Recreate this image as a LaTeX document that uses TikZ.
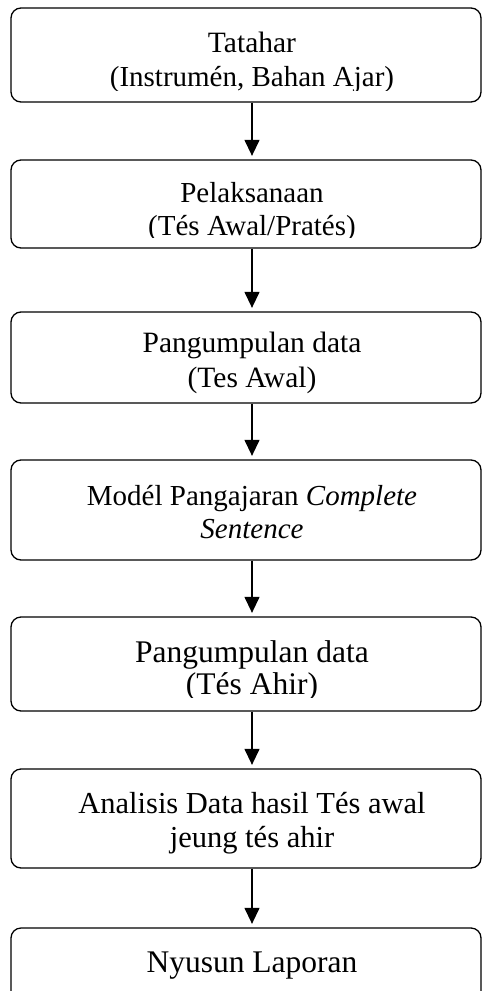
\documentclass[tikz,border=0pt]{standalone}
\usepackage{fontspec}
\setmainfont{Liberation Serif}
\usetikzlibrary{arrows.meta}
\newcommand\fsz[1]{\fontsize{#1}{#1}\selectfont}
\tikzset{
  box/.style={draw=black, line width=1.3pt, rounded corners=10pt, fill=white,
              minimum width=470pt, inner sep=0pt},
  lbl/.style={anchor=base, inner sep=0pt, font=\fsz{#1}},
  arr/.style={draw=black, line width=1.3pt, -{Triangle[width=15pt,length=16pt]},
              shorten >=3.5pt},
}
\begin{document}
\begin{tikzpicture}[x=1pt,y=1pt]
\clip (0,0) rectangle (482,-991);
\fill[white] (0,0) rectangle (482,-991);
\coordinate (ax) at (252,0);
% boxes
\node[box, minimum height=94pt]  (b1) at (246,-55)   {};
\node[box, minimum height=88pt]  (b2) at (246,-204)  {};
\node[box, minimum height=91pt]  (b3) at (246,-357.5) {};
\node[box, minimum height=100pt] (b4) at (246,-510)  {};
\node[box, minimum height=94pt]  (b5) at (246,-664)  {};
\node[box, minimum height=99pt]  (b6) at (246,-818.5) {};
\node[box, minimum height=82pt]  (b7) at (246,-969)  {};
% texts
\node[lbl=29.5] (t1a) at (252,-52) {Tatahar};
\begin{scope}
  \clip (0,-8) rectangle (482,-90);
  \node[lbl=29] (t1b) at (252,-86) {(Instrumén, Bahan Ajar)};
\end{scope}
\node[lbl=29] (t2a) at (252,-202) {Pelaksanaan};
\begin{scope}
  \clip (0,-160) rectangle (482,-237);
  \node[lbl=29] (t2b) at (252,-235) {(Tés Awal/Pratés)};
\end{scope}
\node[lbl=29.5] (t3a) at (252,-352) {Pangumpulan data};
\node[lbl=29.5] (t3b) at (252,-387) {(Tes Awal)};
\node[lbl=29] (t4a) at (252,-505) {Modél Pangajaran \textit{Complete}};
\node[lbl=29] (t4b) at (252,-538) {\textit{Sentence}};
\node[lbl=31.5] (t5a) at (252,-662) {Pangumpulan data};
\begin{scope}
  \clip (0,-617) rectangle (482,-697);
  \node[lbl=31.5] (t5b) at (252,-694) {(Tés Ahir)};
\end{scope}
\node[lbl=30.5] (t6a) at (252,-813) {Analisis Data hasil Tés awal};
\node[lbl=30.5] (t6b) at (252,-847) {jeung tés ahir};
\node[lbl=31.5] (t7a) at (252,-972) {Nyusun Laporan};
% arrows
\draw[arr] (b1.south -| ax) -- (b2.north -| ax);
\draw[arr] (b2.south -| ax) -- (b3.north -| ax);
\draw[arr] (b3.south -| ax) -- (b4.north -| ax);
\draw[arr] (b4.south -| ax) -- (b5.north -| ax);
\draw[arr] (b5.south -| ax) -- (b6.north -| ax);
\draw[arr] (b6.south -| ax) -- (b7.north -| ax);
\end{tikzpicture}
\end{document}
